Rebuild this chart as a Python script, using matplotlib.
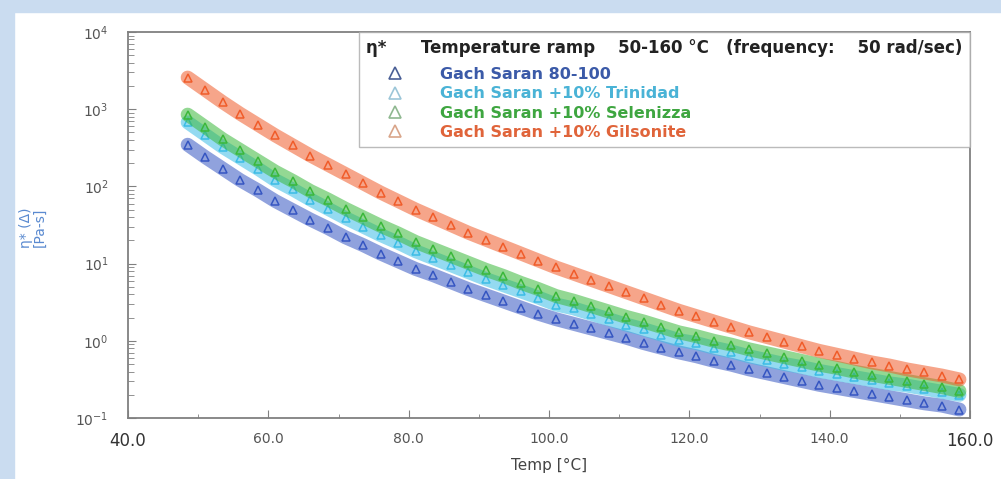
import numpy as np
import matplotlib.pyplot as plt
from matplotlib.lines import Line2D
from matplotlib.patches import Rectangle
from matplotlib.ticker import FixedLocator, LogLocator, NullFormatter

plt.rcParams['font.family'] = ['DejaVu Sans']
plt.rcParams['mathtext.default'] = 'regular'

# temperature of each reading, deg C
temps = np.arange(48.5, 159.0, 2.5)

# log10 of complex viscosity eta* [Pa.s]
log_eta_base = [2.54, 2.38, 2.23, 2.08, 1.95, 1.81, 1.69, 1.57, 1.46, 1.34,
                1.24, 1.13, 1.03, 0.93, 0.85, 0.76, 0.67, 0.59, 0.51, 0.43,
                0.35, 0.28, 0.22, 0.16, 0.10, 0.04, -0.03, -0.09, -0.15, -0.20,
                -0.26, -0.31, -0.37, -0.42, -0.47, -0.52, -0.57, -0.61, -0.65, -0.69,
                -0.73, -0.77, -0.81, -0.84, -0.89]
log_eta_trinidad = [2.83, 2.67, 2.51, 2.37, 2.23, 2.08, 1.96, 1.83, 1.71, 1.59,
                    1.48, 1.37, 1.27, 1.16, 1.07, 0.98, 0.89, 0.80, 0.72, 0.64,
                    0.56, 0.47, 0.42, 0.35, 0.28, 0.21, 0.15, 0.08, 0.01, -0.03,
                    -0.09, -0.14, -0.20, -0.25, -0.30, -0.34, -0.39, -0.43, -0.47, -0.51,
                    -0.55, -0.58, -0.62, -0.66, -0.70]
log_eta_selenizza = [2.93, 2.77, 2.61, 2.47, 2.33, 2.19, 2.07, 1.94, 1.83, 1.71,
                     1.60, 1.49, 1.39, 1.28, 1.19, 1.10, 1.01, 0.92, 0.84, 0.75,
                     0.67, 0.58, 0.52, 0.45, 0.38, 0.31, 0.25, 0.18, 0.11, 0.06,
                     0.00, -0.05, -0.11, -0.16, -0.21, -0.26, -0.31, -0.35, -0.40, -0.44,
                     -0.48, -0.52, -0.56, -0.60, -0.65]
log_eta_gilsonite = [3.41, 3.25, 3.09, 2.94, 2.80, 2.66, 2.53, 2.40, 2.28, 2.16,
                     2.04, 1.92, 1.81, 1.70, 1.60, 1.50, 1.40, 1.31, 1.22, 1.13,
                     1.04, 0.95, 0.87, 0.79, 0.71, 0.63, 0.55, 0.47, 0.39, 0.32,
                     0.25, 0.18, 0.11, 0.05, -0.01, -0.07, -0.13, -0.18, -0.23, -0.28,
                     -0.32, -0.37, -0.41, -0.45, -0.50]

labels = ['Gach Saran 80-100', 'Gach Saran +10% Trinidad',
          'Gach Saran +10% Selenizza', 'Gach Saran +10% Gilsonite']
series = [log_eta_base, log_eta_trinidad, log_eta_selenizza, log_eta_gilsonite]
colors = ['#3656c2', '#3cbde6', '#3bb83b', '#f05c2a']
text_colors = ['#3b5aa8', '#4ab3d6', '#3ea640', '#e0643a']
legend_marker_colors = ['#4a5f96', '#9cc6d8', '#8fb890', '#d9a58a']

fig = plt.figure(figsize=(10.01, 4.79), dpi=100)
# light blue page background peeking in at the left and top
fig.patches.append(Rectangle((0, 0), 14 / 1001, 1, transform=fig.transFigure,
                             color='#cadcf0', zorder=-1))
fig.patches.append(Rectangle((0, 1 - 12 / 479), 1, 12 / 479, transform=fig.transFigure,
                             color='#cadcf0', zorder=-1))

ax = fig.add_axes([128 / 1001, 1 - 418 / 479, 842 / 1001, 386 / 479])

for vals, c in zip(series, colors):
    eta = 10 ** np.array(vals)
    ax.plot(temps, eta, color=c, lw=10, alpha=0.55, solid_capstyle='round')
    ax.plot(temps, eta, ls='none', marker='^', ms=6, mfc='none', mec=c, mew=1.1)

ax.set_yscale('log')
ax.set_xlim(40, 160)
ax.set_ylim(0.1, 1e4)

xt = [40, 60, 80, 100, 120, 140, 160]
ax.set_xticks(xt)
ax.set_xticklabels([f'{v:.1f}' for v in xt])
ax.xaxis.set_minor_locator(FixedLocator([50, 70, 90, 110, 130, 150]))
ax.yaxis.set_major_locator(LogLocator(base=10, numticks=10))
ax.yaxis.set_minor_locator(LogLocator(base=10, subs=np.arange(2, 10), numticks=20))
ax.yaxis.set_minor_formatter(NullFormatter())

ax.tick_params(which='both', direction='in', top=False, right=False,
               color='#808080', labelcolor='#555555', labelsize=10)
ax.tick_params(axis='x', which='major', length=6, pad=10)
ax.tick_params(axis='x', which='minor', length=3)
ax.tick_params(axis='y', which='major', length=6, pad=14)
ax.tick_params(axis='y', which='minor', length=4)
for t in (ax.get_xticklabels()[0], ax.get_xticklabels()[-1]):
    t.set_fontsize(12)
    t.set_color('#333333')

for s in ax.spines.values():
    s.set_color('#808080')
    s.set_linewidth(1.3)

ax.set_xlabel('Temp [°C]', fontsize=11, color='#444444', labelpad=6)
fig.text(0.033, 0.525, 'η* (Δ)\n[Pa-s]', rotation=90, ha='center', va='center',
         fontsize=10, color='#5a8ad0', linespacing=1.0)

handles = [Line2D([], [], ls='none', marker='^', ms=8, mfc='none', mec=mc, mew=1.2)
           for mc in legend_marker_colors]
leg = ax.legend(handles, labels, loc='upper right', bbox_to_anchor=(1, 1),
                borderaxespad=0, fancybox=False, edgecolor='#aaaaaa',
                title='η*      Temperature ramp    50-160 °C   (frequency:    50 rad/sec)',
                alignment='left', handlelength=3.6, handletextpad=1.0,
                labelspacing=0.27, borderpad=0.45, prop={'size': 11.5, 'weight': 'bold'},
                title_fontproperties={'size': 12, 'weight': 'bold'})
leg._legend_box.sep = 7  # a bit more room under the header line
leg.get_frame().set_linewidth(1.0)
leg.get_title().set_color('#222222')
for t, c in zip(leg.get_texts(), text_colors):
    t.set_color(c)

fig.savefig('out.png', dpi=100)
